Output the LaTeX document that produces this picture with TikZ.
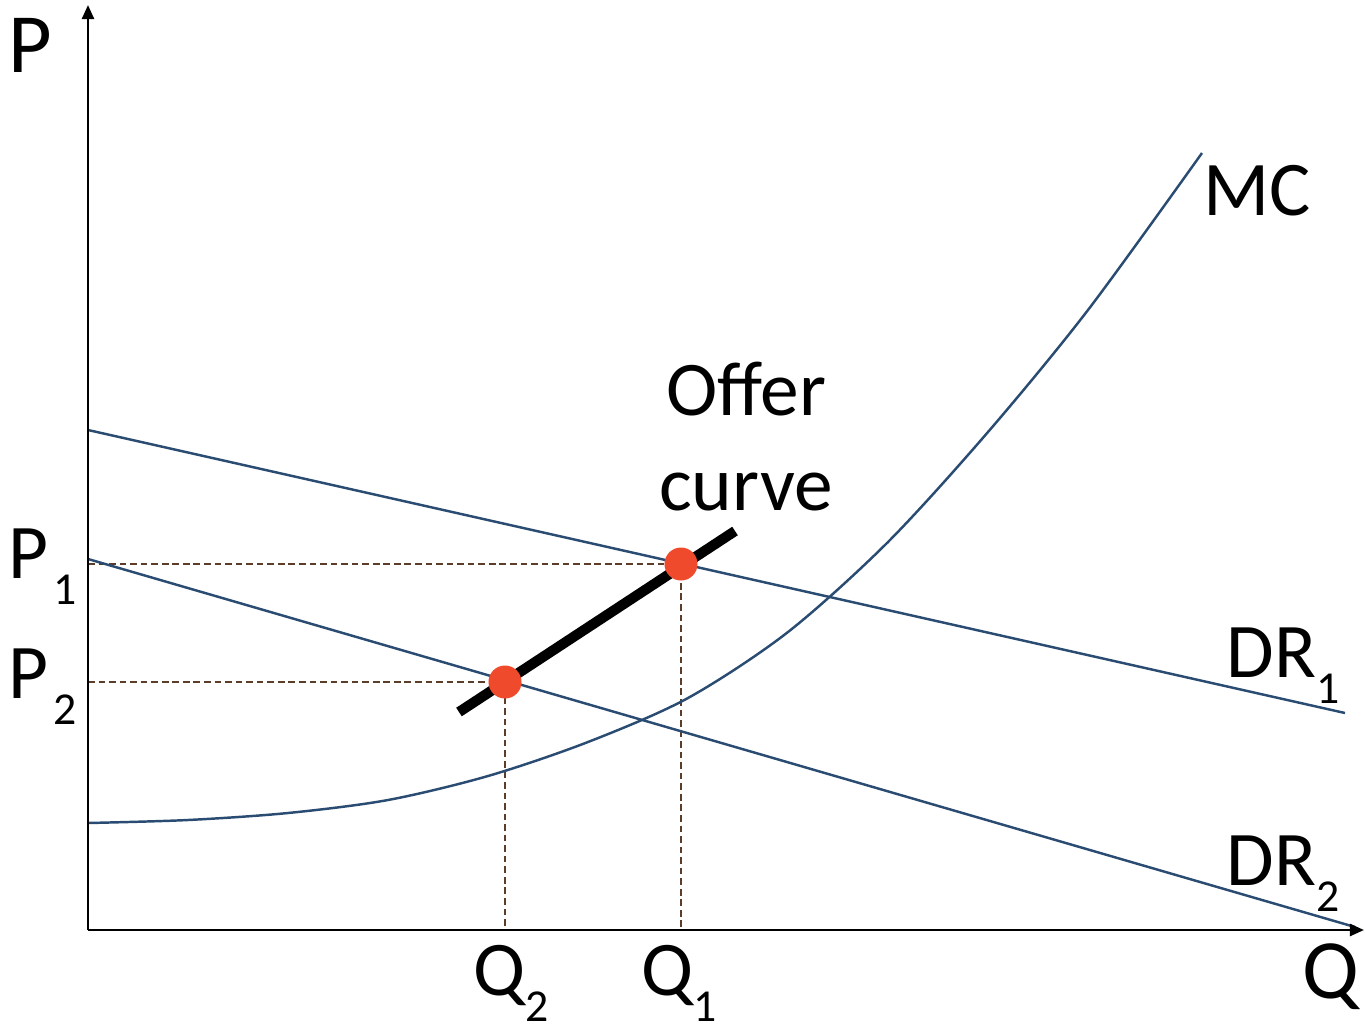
\documentclass[tikz,border=0pt]{standalone}
\usepackage{fontspec}
\setmainfont{Carlito}
\usetikzlibrary{arrows.meta,positioning,calc}
\definecolor{ecBlue}{HTML}{2B4C72}
\definecolor{ecRed}{HTML}{EE4A2B}
\definecolor{ecBrown}{HTML}{5C3D2A}
\newcommand{\subidx}[1]{\raisebox{-7.6pt}{\fontsize{13}{13}\selectfont #1}}
\tikzset{
  axisln/.style={line width=0.75pt, draw=black, -{Triangle[length=4pt,width=3.4pt]}},
  curveln/.style={line width=0.7pt, draw=ecBlue},
  guide/.style={line width=0.75pt, draw=ecBrown, dash pattern=on 1.9pt off 1.1pt},
  offerln/.style={line width=2.9pt, draw=black},
  eqdot/.style={circle, fill=ecRed, inner sep=0pt, minimum size=0.33cm},
  lbl/.style={inner sep=0pt, anchor=base west, font=\fontsize{22}{22}\selectfont},
  axlbl/.style={lbl, font=\fontsize{24}{24}\selectfont},
}
\begin{document}
\begin{tikzpicture}[x=0.01cm, y=-0.01cm]
  \useasboundingbox (0,0) rectangle (1365,1029);
  % axes
  \coordinate (o) at (88,930);
  \coordinate (ptop) at (88,5);
  \coordinate (qend) at (1364,930);
  % demand-residual lines and equilibria
  \coordinate (dr1a) at (88,430);  \coordinate (dr1b) at (1345,713);
  \coordinate (dr2a) at (88,559);  \coordinate (dr2b) at (1355,927);
  \coordinate (eqA) at (681,564);  \coordinate (eqB) at (505,682);
  \coordinate (offa) at (459,712); \coordinate (offb) at (735,531);
  % guides to the axes
  \draw[guide] (o |- eqA) -- (eqA) -- (eqA |- o);
  \draw[guide] (o |- eqB) -- (eqB) -- (eqB |- o);
  \draw[curveln] (dr1a) -- (dr1b);
  \draw[curveln] (dr2a) -- (dr2b);
  \draw[curveln] plot[smooth, tension=0.5] coordinates {(88,823) (188,820) (288,813) (388,800) (488,776) (588,742) (688,698) (788,632) (888,542) (988,432) (1088,310) (1202,153)};
  \draw[offerln] (offa) -- (offb);
  \node[eqdot] (dotA) at (eqA) {};
  \node[eqdot] (dotB) at (eqB) {};
  \draw[axisln] (o) -- (ptop);
  \draw[axisln] (o) -- (qend);
  % labels
  \node[axlbl] (plab) at (8,72) {P};
  \node[axlbl] (qlab) at (1302,998) {Q};
  \node[lbl] (p1lab) at (8,578) {P\kern1.5pt\subidx{1}};
  \node[lbl] (p2lab) at (8,698) {P\kern1.5pt\subidx{2}};
  \node[lbl] (q2lab) at (473,995) {Q\subidx{2}};
  \node[lbl] (q1lab) at (641,995) {Q\subidx{1}};
  \node[lbl] (mclab) at (1203,215) {MC};
  \node[lbl] (dr1lab) at (1226,677) {DR\subidx{1}};
  \node[lbl] (dr2lab) at (1226,885) {DR\subidx{2}};
  \node[lbl, anchor=base] (offlab) at (746,415) {Offer};
  \node[lbl, anchor=base] (curvelab) at (746,510) {curve};
\end{tikzpicture}
\end{document}
